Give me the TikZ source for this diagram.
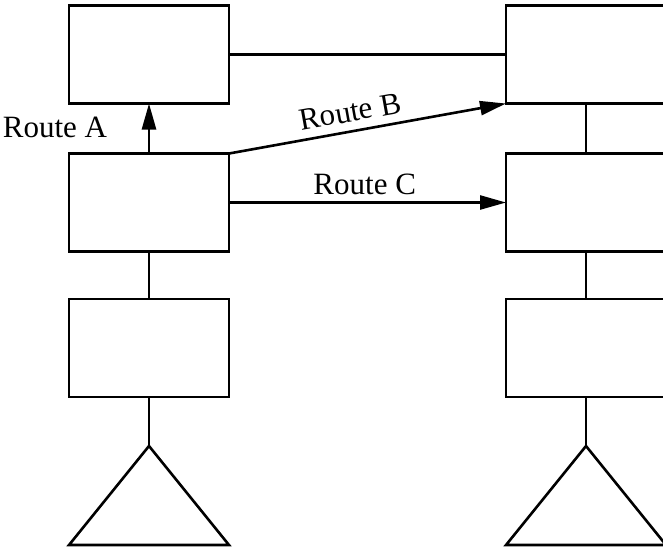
\documentclass[tikz,border=0pt]{standalone}
\usepackage{fontspec}
\setmainfont{Liberation Serif}
\usetikzlibrary{arrows.meta}
\begin{document}
\begin{tikzpicture}[x=0.5pt,y=-0.5pt,
  blk/.style={draw,line width=1.3pt,minimum width=80pt,minimum height=49pt,inner sep=0pt,outer sep=0pt},
  wire/.style={line width=1.3pt},
  arr/.style={line width=1.3pt,-{Triangle[length=13pt,width=7pt]}},
  lbl/.style={font=\fontsize{15.5}{18}\selectfont,inner sep=1pt}]
\useasboundingbox (0,0) rectangle (663,548);
\clip (0,0) rectangle (663,548);
% left column
\node[blk] (L1) at (149,54.5) {};
\node[blk] (L2) at (149,202.5) {};
\node[blk] (L3) at (149,348) {};
\coordinate (LT) at (149,446);
\draw[wire,line join=miter] (LT) -- (69,545) -- (229,545) -- cycle;
% right column
\node[blk] (R1) at (586,54.5) {};
\node[blk] (R2) at (586,202.5) {};
\node[blk] (R3) at (586,348) {};
\coordinate (RT) at (586,446);
\draw[wire,line join=miter] (RT) -- (506,545) -- (666,545) -- cycle;
% connectors
\draw[wire] (L1.east) -- (R1.west);
\draw[wire] (L2.south) -- (L3.north);
\draw[wire] (L3.south) -- (LT);
\draw[wire] (R1.south) -- (R2.north);
\draw[wire] (R2.south) -- (R3.north);
\draw[wire] (R3.south) -- (RT);
\draw[arr] (L2.north) -- (L1.south);
\node[lbl] (la) at (55,127) {Route A};
\draw[arr] (L2.north east) -- node[lbl,above=3pt,sloped,pos=0.45] (lb) {Route B} (R1.south west);
\draw[arr] (L2.east) -- node[lbl,above=2pt,pos=0.49] (lc) {Route C} (R2.west);
\end{tikzpicture}
\end{document}
